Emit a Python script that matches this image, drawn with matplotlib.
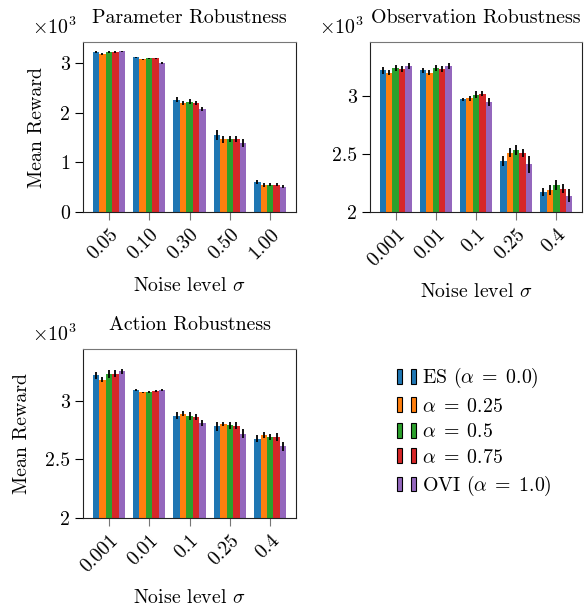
import matplotlib
matplotlib.use("Agg")
import matplotlib.pyplot as plt
from matplotlib.patches import Patch
from matplotlib.legend_handler import HandlerTuple
import numpy as np

plt.rcParams['font.family'] = 'serif'
plt.rcParams['font.serif'] = ['cmr10']
plt.rcParams['mathtext.fontset'] = 'cm'
plt.rcParams['axes.unicode_minus'] = False
plt.rcParams['font.size'] = 14.3

colors = ['#1f77b4', '#ff7f0e', '#2ca02c', '#d62728', '#9467bd']
methods = [r'ES ($\alpha\;=\;0.0$)', r'$\alpha\;=\;0.25$', r'$\alpha\;=\;0.5$',
           r'$\alpha\;=\;0.75$', r'OVI ($\alpha\;=\;1.0$)']

# Parameter robustness
param_levels = ['0.05', '0.10', '0.30', '0.50', '1.00']
param_mean = [
    [3210, 3110, 2260, 1540, 610],   # ES
    [3170, 3070, 2200, 1460, 550],   # 0.25
    [3210, 3090, 2220, 1470, 550],   # 0.5
    [3220, 3090, 2200, 1470, 550],   # 0.75
    [3230, 2990, 2070, 1390, 510],   # OVI
]
param_err = [
    [20, 15, 50, 100, 40],
    [20, 15, 40, 70, 40],
    [20, 10, 45, 60, 30],
    [15, 10, 40, 65, 30],
    [15, 20, 45, 80, 30],
]

# Observation robustness
obs_levels = ['0.001', '0.01', '0.1', '0.25', '0.4']
obs_mean = [
    [3220, 3220, 2970, 2440, 2170],
    [3200, 3200, 2980, 2510, 2190],
    [3240, 3240, 3010, 2535, 2235],
    [3230, 3230, 3020, 2510, 2200],
    [3260, 3255, 2950, 2410, 2140],
]
obs_err = [
    [30, 25, 15, 45, 35],
    [20, 20, 20, 40, 40],
    [25, 25, 30, 40, 45],
    [25, 25, 20, 35, 40],
    [25, 25, 35, 70, 55],
]

# Action robustness
act_levels = ['0.001', '0.01', '0.1', '0.25', '0.4']
act_mean = [
    [3215, 3090, 2870, 2780, 2675],
    [3180, 3070, 2890, 2800, 2710],
    [3230, 3070, 2870, 2790, 2690],
    [3230, 3080, 2860, 2785, 2690],
    [3250, 3090, 2810, 2720, 2610],
]
act_err = [
    [30, 10, 30, 40, 30],
    [25, 5, 20, 20, 25],
    [35, 8, 35, 30, 25],
    [30, 8, 25, 30, 35],
    [20, 8, 25, 35, 40],
]


def draw(ax, levels, means, errs, title, ylim, yticks, ylabel=True):
    x = np.arange(len(levels))
    w = 0.16
    for i in range(len(means)):
        ax.bar(x + (i - 2) * w, means[i], w, color=colors[i],
               yerr=errs[i], ecolor='black', error_kw=dict(lw=1.3, capsize=0))
    ax.set_xticks(x)
    ax.set_xticklabels(levels, rotation=45, ha='right', rotation_mode='anchor')
    ax.set_ylim(*ylim)
    ax.set_yticks(yticks)
    ax.set_yticklabels(['%g' % (v / 1000) for v in yticks])
    ax.annotate(r'$\times10^{3}$', xy=(0, 1), xycoords='axes fraction',
                xytext=(-6, 4), textcoords='offset pixels', ha='right', va='bottom')
    ax.set_title(title, fontsize=14.3, pad=14)
    ax.set_xlabel(r'Noise level $\sigma$', labelpad=10)
    if ylabel:
        ax.set_ylabel('Mean Reward', labelpad=10)
    ax.tick_params(axis='x', direction='out', length=6, color='#777777')
    ax.tick_params(axis='y', direction='out', length=6, color='black')
    ax.spines['top'].set_color('#777777')
    for s in ['left', 'bottom', 'right']:
        ax.spines[s].set_color('#222222')


fig = plt.figure(figsize=(5.84, 6.09), dpi=100)
W, H = 584, 609


def add(l, t, r, b):
    return fig.add_axes([l / W, 1 - b / H, (r - l) / W, (b - t) / H])


ax1 = add(83, 42, 296, 212)
ax2 = add(370, 42, 582, 212)
ax3 = add(83, 349, 296, 518)

draw(ax1, param_levels, param_mean, param_err, 'Parameter Robustness',
     (0, 3420), [0, 1000, 2000, 3000])
draw(ax2, obs_levels, obs_mean, obs_err, 'Observation Robustness',
     (2000, 3465), [2000, 2500, 3000], ylabel=False)
draw(ax3, act_levels, act_mean, act_err, 'Action Robustness',
     (2000, 3440), [2000, 2500, 3000])

handles = [(Patch(facecolor=c, edgecolor='black', lw=0.8),
            Patch(facecolor=c, edgecolor='black', lw=0.8)) for c in colors]
fig.legend(handles, methods, loc='upper left', bbox_to_anchor=(397 / W, 1 - 366 / H),
           frameon=False, handler_map={tuple: HandlerTuple(ndivide=None, pad=0.45)},
           handlelength=0.96, handleheight=0.78, handletextpad=0.3, labelspacing=0.36,
           borderpad=0, borderaxespad=0)

fig.savefig('out.png', dpi=100)
